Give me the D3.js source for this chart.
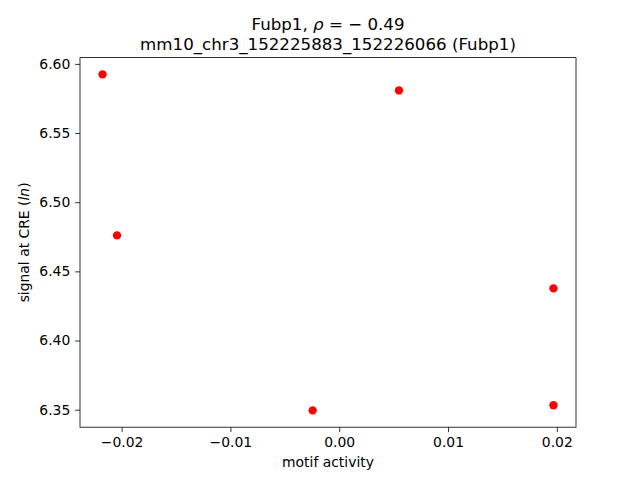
<!DOCTYPE html>
<html>
<head>
<meta charset="utf-8">
<script src="https://cdn.jsdelivr.net/npm/d3@7"></script>
<style>
  html, body { margin: 0; padding: 0; background: #fff; }
  svg { display: block; font-family: "DejaVu Sans", sans-serif; }
</style>
</head>
<body>
<svg id="chart" width="640" height="480"></svg>
<script>
// Data
const motifActivity = [-0.02175, -0.02042, 0.00549, 0.01969, 0.01969, -0.00244];
const signalAtCRE   = [6.5924, 6.4760, 6.5808, 6.4377, 6.3532, 6.3495];
const xTicks = [-0.02, -0.01, 0.00, 0.01, 0.02];
const yTicks = [6.35, 6.40, 6.45, 6.50, 6.55, 6.60];
const titleLine1 = ["Fubp1, ", "ρ", " = − 0.49"];
const titleLine2 = "mm10_chr3_152225883_152226066 (Fubp1)";

const W = 640, H = 480;
const m = { left: 80, right: 576, top: 57.6, bottom: 427.2 };
const svg = d3.select("#chart");

function padded(vals) {
  const [a, b] = d3.extent(vals);
  const p = (b - a) * 0.05;
  return [a - p, b + p];
}

const x = d3.scaleLinear().domain(padded(motifActivity)).range([m.left, m.right]);
const y = d3.scaleLinear().domain(padded(signalAtCRE)).range([m.bottom, m.top]);

const fmt = d => d3.format(".2f")(d).replace("-", "−");

const xAxis = d3.axisBottom(x).tickValues(xTicks).tickFormat(fmt).tickSizeOuter(0).tickSize(4.86).tickPadding(4.86);
const yAxis = d3.axisLeft(y).tickValues(yTicks).tickFormat(fmt).tickSizeOuter(0).tickSize(4.86).tickPadding(4.86);

const gx = svg.append("g").attr("transform", `translate(0,${m.bottom})`).call(xAxis);
const gy = svg.append("g").attr("transform", `translate(${m.left},0)`).call(yAxis);
[gx, gy].forEach(g => {
  g.select(".domain").remove();
  g.selectAll("line").attr("stroke", "#000").attr("stroke-width", 0.8);
  g.selectAll("text").attr("fill", "#000").style("font-size", "13.9px").style("font-family", "DejaVu Sans, sans-serif");
});

// frame
svg.append("rect")
  .attr("x", m.left).attr("y", m.top)
  .attr("width", m.right - m.left).attr("height", m.bottom - m.top)
  .attr("fill", "none").attr("stroke", "#000").attr("stroke-width", 0.8);

// points
svg.append("g").selectAll("circle")
  .data(motifActivity.map((v, i) => [v, signalAtCRE[i]]))
  .join("circle")
  .attr("cx", d => x(d[0]))
  .attr("cy", d => y(d[1]))
  .attr("r", 4.17)
  .attr("fill", "#ff0000");

// title
const cx = (m.left + m.right) / 2;
const t1 = svg.append("text").attr("x", cx).attr("y", 30).attr("text-anchor", "middle")
  .style("font-size", "16.67px").attr("fill", "#000");
t1.append("tspan").text(titleLine1[0]);
t1.append("tspan").style("font-style", "italic").text(titleLine1[1]);
t1.append("tspan").text(titleLine1[2]);
svg.append("text").attr("x", cx).attr("y", 49.5).attr("text-anchor", "middle")
  .style("font-size", "16.67px").attr("fill", "#000").text(titleLine2);

// x label
svg.append("text").attr("x", cx).attr("y", 467).attr("text-anchor", "middle")
  .style("font-size", "13.9px").attr("fill", "#000").text("motif activity");

// y label
const yl = svg.append("text")
  .attr("transform", `translate(29,${(m.top + m.bottom) / 2}) rotate(-90)`)
  .attr("text-anchor", "middle").style("font-size", "13.9px").attr("fill", "#000");
yl.append("tspan").text("signal at CRE (");
yl.append("tspan").style("font-style", "italic").text("ln");
yl.append("tspan").text(")");
</script>
</body>
</html>
